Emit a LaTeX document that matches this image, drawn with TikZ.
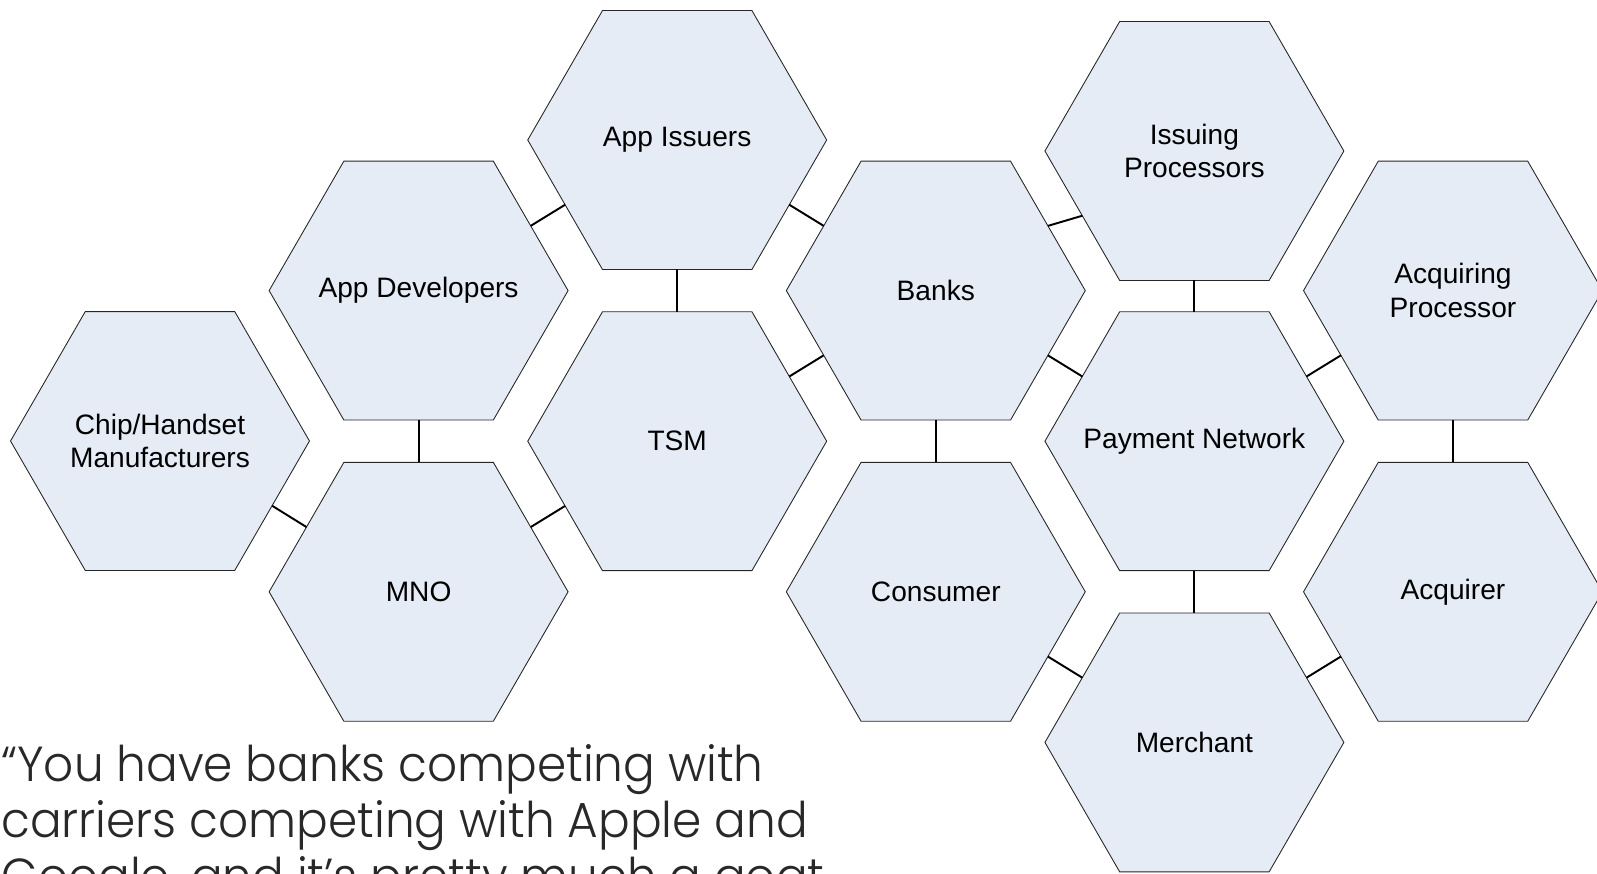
\documentclass[tikz,border=0pt]{standalone}
\usepackage{fontspec}
\setmainfont{Liberation Sans}
\newfontfamily\quotefont[FakeStretch=0.955]{Poppins Light}
\usetikzlibrary{shapes.geometric}

\definecolor{hexfill}{RGB}{230,236,246}
\definecolor{quotegray}{RGB}{40,40,40}

\tikzset{
  hexa/.style={regular polygon, regular polygon sides=6, minimum size=5.98cm,
    inner sep=0pt, outer sep=0pt, draw=black!85, line width=0.5pt,
    fill=hexfill},
  hexlabel/.style={align=center, font=\fontsize{16}{19}\selectfont},
  link/.style={line width=1.1pt},
  quote/.style={align=left, text=quotegray, inner sep=0pt,
    font=\quotefont\fontsize{28}{31.7}\selectfont}
}

\begin{document}
\begin{tikzpicture}[x=0.02cm,y=-0.02cm]
  \useasboundingbox (0,0) rectangle (1597,873);

  % hexagons, column by column
  \node[hexa, label={[hexlabel]center:{Chip/Handset\\Manufacturers}}] (chip) at (160,441) {};
  \node[hexa, label={[hexlabel]center:App Developers}] (appdev) at (418.6,290.6) {};
  \node[hexa, label={[hexlabel]center:MNO}] (mno) at (418.6,591.8) {};
  \node[hexa, label={[hexlabel]center:App Issuers}] (issuers) at (677.2,140) {};
  \node[hexa, label={[hexlabel]center:TSM}] (tsm) at (677.2,441.2) {};
  \node[hexa, label={[hexlabel]center:Banks}] (banks) at (935.8,290.6) {};
  \node[hexa, label={[hexlabel]center:Consumer}] (consumer) at (935.8,591.8) {};
  \node[hexa, label={[hexlabel]center:{Issuing\\Processors}}] (issproc) at (1194.4,151) {};
  \node[hexa, label={[hexlabel]center:Payment Network}] (network) at (1194.4,441.2) {};
  \node[hexa, label={[hexlabel]center:Merchant}] (merchant) at (1194.4,742.4) {};
  \node[hexa, label={[hexlabel]center:{Acquiring\\Processor}}] (acqproc) at (1453,290.6) {};
  \node[hexa, label={[hexlabel]center:Acquirer}] (acquirer) at (1453,591.8) {};

  % links between neighbours
  \draw[link] (chip.-30) -- (mno.150);
  \draw[link] (appdev.south) -- (mno.north);
  \draw[link] (appdev.30) -- (issuers.210);
  \draw[link] (mno.30) -- (tsm.210);
  \draw[link] (issuers.south) -- (tsm.north);
  \draw[link] (issuers.-30) -- (banks.150);
  \draw[link] (tsm.30) -- (banks.210);
  \draw[link] (banks.south) -- (consumer.north);
  \draw[link] (banks.30) -- (issproc.210);
  \draw[link] (banks.-30) -- (network.150);
  \draw[link] (issproc.south) -- (network.north);
  \draw[link] (consumer.-30) -- (merchant.150);
  \draw[link] (network.south) -- (merchant.north);
  \draw[link] (network.30) -- (acqproc.210);
  \draw[link] (acqproc.south) -- (acquirer.north);
  \draw[link] (merchant.30) -- (acquirer.210);

  % last baseline sits two lines below the first
  \node[quote, anchor=base west] (saying) at (1,893)
    {“You have banks competing with\\carriers competing with Apple and\\Google, and it’s pretty much a goat};
\end{tikzpicture}
\end{document}
